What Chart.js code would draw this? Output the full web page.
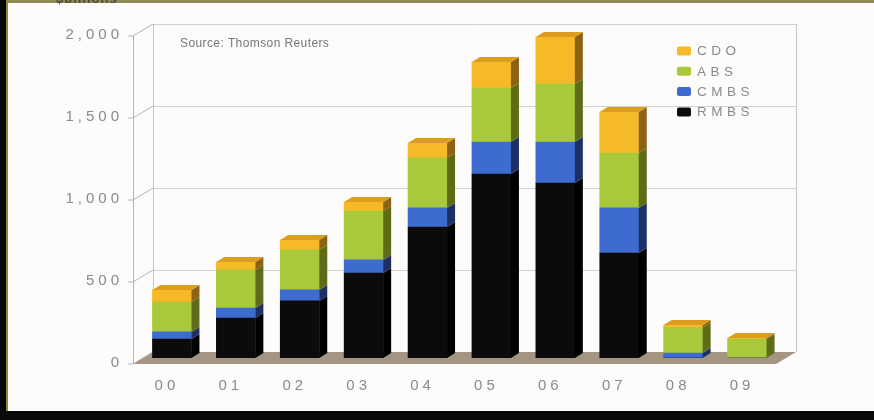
<!DOCTYPE html>
<html>
<head>
<meta charset="utf-8">
<script src="https://cdn.jsdelivr.net/npm/chart.js@4.4.1/dist/chart.umd.min.js"></script>
<style>
  html, body { margin: 0; padding: 0; background: #fdfcfa; }
  canvas { display: block; }
</style>
</head>
<body>
<canvas id="c" width="874" height="420"></canvas>
<script>
// Issuance by year, $ billions (stacked bottom to top: RMBS, CMBS, ABS, CDO)
const years = ['00', '01', '02', '03', '04', '05', '06', '07', '08', '09'];
const rmbs = [116, 244, 348, 518, 799, 1122, 1067, 640, 0, 0];
const cmbs = [43, 61, 67, 80, 116, 195, 250, 275, 30, 0];
const abs  = [182, 232, 244, 298, 305, 329, 354, 335, 155, 115];
const cdo  = [74, 48, 61, 55, 91, 159, 286, 250, 16, 7];
const yTicks = [0, 500, 1000, 1500, 2000];
const sourceNote = 'Source: Thomson Reuters';
const unitNote = '$billions';

// face colours per series: front, side, top
const palette = {
  RMBS: ['#0b0b0b', '#000000', '#2a2a2a'],
  CMBS: ['#3d6bd0', '#1e2f68', '#5f86dc'],
  ABS:  ['#a9c93a', '#5e6b18', '#bcd553'],
  CDO:  ['#f6b928', '#8e6214', '#dc9d1e']
};

const AXIS_FONT = { family: 'Liberation Sans', size: 15 };
const TEXT_GREY = '#8a8a8a';
const DEPTH = { dx: 8, dy: -5 };       // bar extrusion
const FRONT = { dx: -7, dy: 6 };       // front plane relative to bars
const BACK  = { dx: 13, dy: -6 };      // back wall relative to bars

function series(label, data) {
  return {
    label, data,
    backgroundColor: palette[label][0],
    borderWidth: 0,
    barThickness: 39
  };
}

const scene3d = {
  id: 'scene3d',
  beforeDraw(chart) {
    const ctx = chart.ctx;
    ctx.save();
    ctx.fillStyle = '#fdfcfa';
    ctx.fillRect(0, 0, chart.width, chart.height);
    // frame of the page
    ctx.fillStyle = '#8f8a55';
    ctx.fillRect(0, 0, chart.width, 3);
    ctx.fillStyle = '#050505';
    ctx.fillRect(0, 0, 6, chart.height);
    ctx.fillStyle = '#8f8533';
    ctx.fillRect(6, 0, 2, chart.height);
    ctx.fillStyle = '#0a0a0a';
    ctx.fillRect(0, 411, chart.width, chart.height - 411);
    // unit caption, cut by the top edge
    ctx.fillStyle = '#4a4a40';
    ctx.font = 'bold 13px "Liberation Sans"';
    ctx.letterSpacing = '1px';
    ctx.textBaseline = 'alphabetic';
    ctx.fillText(unitNote, 56, 3);
    ctx.restore();
    chart.ctx.letterSpacing = '4px';
  },
  beforeDatasetsDraw(chart) {
    const { ctx, chartArea: a, scales: { y } } = chart;
    const top = y.getPixelForValue(yTicks[yTicks.length - 1]);
    const zero = y.getPixelForValue(0);
    const fL = a.left + FRONT.dx, fR = a.right - 3;
    const bL = a.left + BACK.dx, bR = a.right + 17;
    ctx.save();
    ctx.letterSpacing = '0px';
    // floor
    ctx.fillStyle = '#a49482';
    ctx.beginPath();
    ctx.moveTo(fL, zero + FRONT.dy);
    ctx.lineTo(fR, zero + FRONT.dy);
    ctx.lineTo(bR, zero + BACK.dy);
    ctx.lineTo(bL, zero + BACK.dy);
    ctx.closePath();
    ctx.fill();
    // back wall grid
    ctx.lineWidth = 1;
    ctx.strokeStyle = '#d2d2d2';
    yTicks.forEach(v => {
      if (v === 0) return;
      const py = Math.round(y.getPixelForValue(v) + BACK.dy) + 0.5;
      ctx.beginPath();
      ctx.moveTo(bL, py);
      ctx.lineTo(bR, py);
      ctx.stroke();
    });
    ctx.strokeStyle = '#c4c4c4';
    ctx.beginPath();
    ctx.moveTo(Math.round(bL) + 0.5, top + BACK.dy);
    ctx.lineTo(Math.round(bL) + 0.5, zero + BACK.dy);
    ctx.moveTo(Math.round(bR) + 0.5, top + BACK.dy);
    ctx.lineTo(Math.round(bR) + 0.5, zero + BACK.dy);
    ctx.stroke();
    // left wall: axis line, ticks and slanted grid
    ctx.strokeStyle = '#b4b4b4';
    ctx.beginPath();
    ctx.moveTo(Math.round(fL) + 0.5, top + FRONT.dy);
    ctx.lineTo(Math.round(fL) + 0.5, zero + FRONT.dy);
    ctx.stroke();
    yTicks.forEach(v => {
      const p = y.getPixelForValue(v);
      ctx.beginPath();
      ctx.moveTo(fL - 5, p + FRONT.dy);
      ctx.lineTo(fL, p + FRONT.dy);
      ctx.lineTo(bL, p + BACK.dy);
      ctx.stroke();
    });
    ctx.restore();
  },
  afterDatasetsDraw(chart) {
    const ctx = chart.ctx;
    const n = chart.data.labels.length;
    ctx.save();
    for (let i = 0; i < n; i++) {
      let topIdx = -1;
      chart.data.datasets.forEach((ds, d) => {
        const el = chart.getDatasetMeta(d).data[i];
        if (!ds.data[i]) return;
        topIdx = d;
        const xr = el.x + el.width / 2;
        ctx.fillStyle = palette[ds.label][1];
        ctx.beginPath();
        ctx.moveTo(xr, el.y);
        ctx.lineTo(xr + DEPTH.dx, el.y + DEPTH.dy);
        ctx.lineTo(xr + DEPTH.dx, el.base + DEPTH.dy);
        ctx.lineTo(xr, el.base);
        ctx.closePath();
        ctx.fill();
      });
      if (topIdx < 0) continue;
      const ds = chart.data.datasets[topIdx];
      const el = chart.getDatasetMeta(topIdx).data[i];
      const xl = el.x - el.width / 2, xr = el.x + el.width / 2;
      ctx.fillStyle = palette[ds.label][2];
      ctx.beginPath();
      ctx.moveTo(xl, el.y);
      ctx.lineTo(xl + DEPTH.dx, el.y + DEPTH.dy);
      ctx.lineTo(xr + DEPTH.dx, el.y + DEPTH.dy);
      ctx.lineTo(xr, el.y);
      ctx.closePath();
      ctx.fill();
    }
    ctx.restore();
  },
  afterDraw(chart) {
    const ctx = chart.ctx;
    ctx.save();
    // source note
    ctx.letterSpacing = '0.4px';
    ctx.fillStyle = '#777777';
    ctx.font = '12px "Liberation Sans"';
    ctx.textBaseline = 'middle';
    ctx.textAlign = 'left';
    ctx.fillText(sourceNote, 180, 44);
    // legend, top series first
    ctx.letterSpacing = '4.5px';
    ctx.font = '13.5px "Liberation Sans"';
    const items = chart.data.datasets.slice().reverse();
    items.forEach((ds, k) => {
      const cy = 51 + k * 20.3;
      ctx.fillStyle = palette[ds.label][0];
      ctx.beginPath();
      ctx.roundRect(677, cy - 4.5, 14, 9, 2);
      ctx.fill();
      ctx.fillStyle = TEXT_GREY;
      ctx.fillText(ds.label, 697, cy + 0.5);
    });
    ctx.restore();
  }
};

new Chart(document.getElementById('c'), {
  type: 'bar',
  data: {
    labels: years,
    datasets: [
      series('RMBS', rmbs),
      series('CMBS', cmbs),
      series('ABS', abs),
      series('CDO', cdo)
    ]
  },
  options: {
    responsive: false,
    animation: false,
    events: [],
    layout: { padding: { left: 0, right: 95, top: 30, bottom: 0 } },
    plugins: { legend: { display: false }, tooltip: { enabled: false } },
    scales: {
      x: {
        stacked: true,
        grid: { display: false, drawTicks: false },
        border: { display: false },
        ticks: { color: TEXT_GREY, font: AXIS_FONT, padding: 19, labelOffset: -5 },
        afterFit(s) { s.height = 62; }
      },
      y: {
        stacked: true,
        min: 0,
        max: 2000,
        grid: { display: false, drawTicks: false },
        border: { display: false },
        afterBuildTicks(s) { s.ticks = yTicks.map(v => ({ value: v })); },
        ticks: {
          color: TEXT_GREY, font: AXIS_FONT, padding: 17, labelOffset: 5,
          callback: v => v.toLocaleString('en-US')
        },
        afterFit(s) { s.width = 140; }
      }
    }
  },
  plugins: [scene3d]
});
</script>
</body>
</html>
